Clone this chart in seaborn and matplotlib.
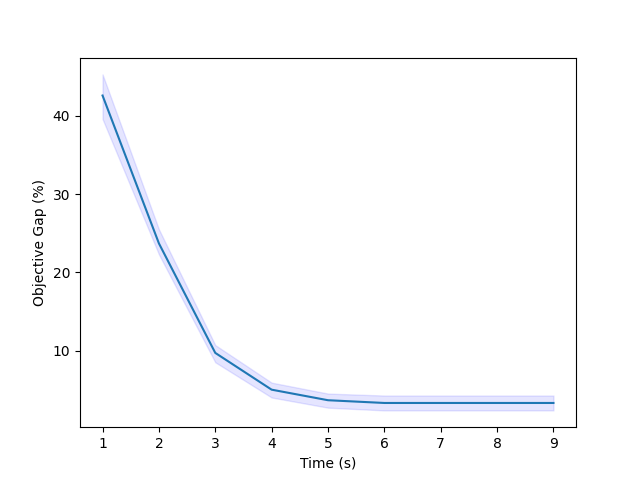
import matplotlib
matplotlib.use("Agg")
import matplotlib.pyplot as plt
import seaborn as sns
import pandas as pd

time_s = [1, 2, 3, 4, 5, 6, 7, 8, 9]
gap_mean = [42.6, 23.7, 9.7, 5.0, 3.65, 3.3, 3.3, 3.3, 3.3]
gap_upper = [45.3, 25.5, 10.7, 5.9, 4.5, 4.25, 4.25, 4.25, 4.25]
gap_lower = [39.6, 22.3, 8.5, 4.0, 2.7, 2.35, 2.35, 2.35, 2.35]

df = pd.DataFrame({"Time (s)": time_s, "Objective Gap (%)": gap_mean})

fig, ax = plt.subplots(figsize=(6.4, 4.8), dpi=100)
sns.lineplot(data=df, x="Time (s)", y="Objective Gap (%)", ax=ax, color="C0")
ax.fill_between(time_s, gap_lower, gap_upper, color="b", alpha=0.1)
ax.set_xlabel("Time (s)")
ax.set_ylabel("Objective Gap (%)")
fig.savefig("out.png", dpi=100)
